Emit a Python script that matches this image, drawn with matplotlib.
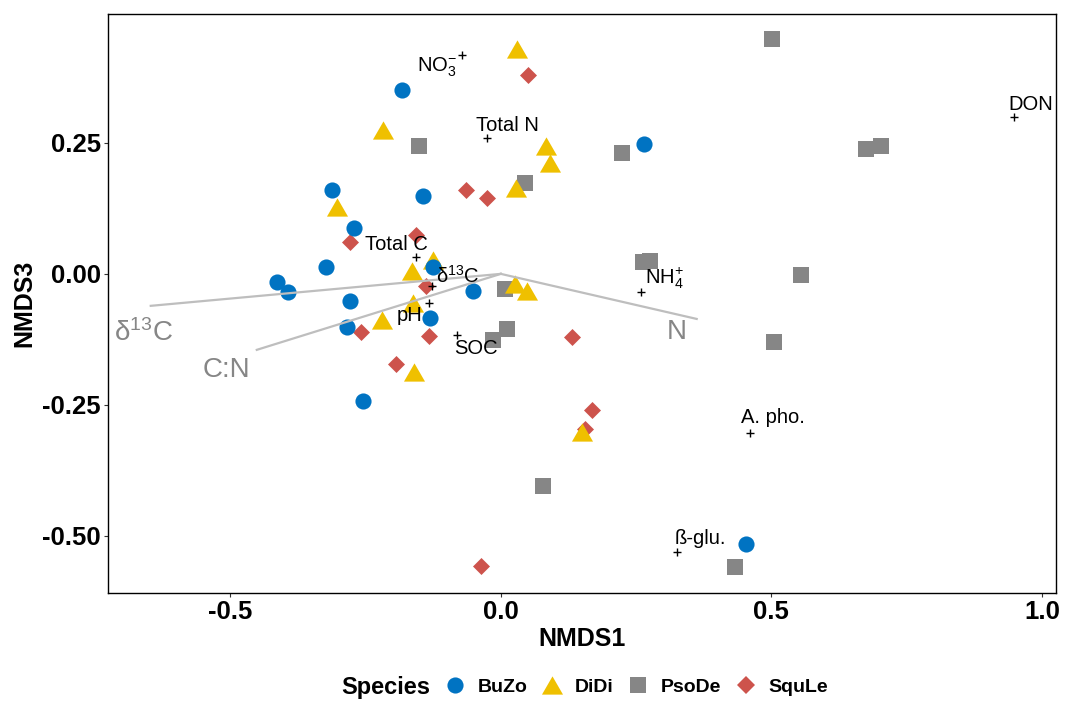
import numpy as np
import matplotlib
matplotlib.use("Agg")
import matplotlib.pyplot as plt
from matplotlib.lines import Line2D

plt.rcParams['font.family'] = ['Liberation Sans', 'DejaVu Sans']
plt.rcParams['mathtext.fontset'] = 'custom'
plt.rcParams['mathtext.rm'] = 'Liberation Sans'
plt.rcParams['mathtext.it'] = 'Liberation Sans:italic'
plt.rcParams['mathtext.bf'] = 'Liberation Sans:bold'

# site scores (NMDS1, NMDS3) per species
buzo_x = [-0.183, 0.264, -0.312, -0.144, -0.272, -0.323, -0.414, -0.394, -0.126,
          -0.279, -0.052, -0.285, -0.131, -0.255, 0.453]
buzo_y = [0.351, 0.248, 0.160, 0.149, 0.088, 0.013, -0.015, -0.034, 0.013,
          -0.052, -0.032, -0.101, -0.084, -0.242, -0.515]

didi_x = [0.030, -0.218, 0.083, 0.091, 0.028, -0.303, -0.165, -0.126, -0.163,
          -0.220, -0.161, 0.026, 0.048, 0.150]
didi_y = [0.429, 0.275, 0.244, 0.212, 0.164, 0.128, 0.006, 0.027, -0.055,
          -0.088, -0.187, -0.019, -0.032, -0.302]

psode_x = [0.501, -0.152, 0.224, 0.044, 0.675, 0.702, 0.262, 0.275, 0.555,
           0.505, 0.007, -0.015, 0.011, 0.078, 0.433]
psode_y = [0.448, 0.244, 0.231, 0.174, 0.239, 0.244, 0.023, 0.025, -0.002,
           -0.130, -0.029, -0.126, -0.105, -0.405, -0.559]

squle_x = [0.050, -0.065, -0.026, -0.279, -0.157, -0.139, -0.259, -0.133, -0.194,
           0.131, 0.168, 0.155, -0.037]
squle_y = [0.380, 0.160, 0.145, 0.061, 0.074, -0.023, -0.111, -0.118, -0.172,
           -0.120, -0.260, -0.296, -0.557]

# fitted vectors (grey)
vec_names = ["δ$^{13}$C", "C:N", "N"]
vec_x = [-0.647, -0.451, 0.362]
vec_y = [-0.061, -0.145, -0.086]
vec_lab_x = [-0.660, -0.508, 0.325]
vec_lab_y = [-0.113, -0.183, -0.111]

# environmental / enzyme points (black +)
env_names = ["NO$_3^{-}$", "Total N", "Total C", "δ$^{13}$C", "pH", "SOC",
             "NH$_4^{+}$", "A. pho.", "ß-glu.", "DON"]
env_x = [-0.072, -0.026, -0.157, -0.128, -0.133, -0.081, 0.259, 0.460, 0.325, 0.948]
env_y = [0.418, 0.260, 0.032, -0.023, -0.055, -0.116, -0.034, -0.303, -0.531, 0.300]
# label offsets in points
env_off = [(-18, -9), (15, 9), (-14, 9), (19, 7), (-14, -9), (14, -10),
           (17, 10), (17, 11), (17, 10), (12, 9)]

species = ["BuZo", "DiDi", "PsoDe", "SquLe"]
colors = {"BuZo": "#0073C2", "DiDi": "#EFC000", "PsoDe": "#868686", "SquLe": "#CD534C"}
tri = [(-1, -0.866), (1, -0.866), (0, 0.866)]
markers = {"BuZo": "o", "DiDi": tri, "PsoDe": "s", "SquLe": "D"}
sizes = {"BuZo": 135, "DiDi": 230, "PsoDe": 135, "SquLe": 75}
data = {"BuZo": (buzo_x, buzo_y), "DiDi": (didi_x, didi_y),
        "PsoDe": (psode_x, psode_y), "SquLe": (squle_x, squle_y)}

fig = plt.figure(figsize=(10.65, 7.02), dpi=100)
ax = fig.add_axes([0.1014, 0.1553, 0.8901, 0.8248])

for i, sp in enumerate(["SquLe", "PsoDe", "DiDi", "BuZo"]):
    x, y = data[sp]
    ax.scatter(x, y, s=sizes[sp], marker=markers[sp], color=colors[sp],
               linewidths=0, zorder=2 + i)

for vx, vy, lx, ly, name in zip(vec_x, vec_y, vec_lab_x, vec_lab_y, vec_names):
    ax.plot([0, vx], [0, vy], color="#BEBEBE", lw=1.6, zorder=7)
    ax.text(lx, ly, name, color="#868686", fontsize=20, ha="center", va="center", zorder=8)

ax.scatter(env_x, env_y, marker="+", color="black", s=30, linewidths=1, zorder=9)
for ex, ey, name, off in zip(env_x, env_y, env_names, env_off):
    ax.annotate(name, (ex, ey), xytext=off, textcoords="offset points",
                ha="center", va="center", fontsize=14.5, zorder=10)

ax.set_xlim(-0.726, 1.026)
ax.set_ylim(-0.609, 0.496)
ax.set_xticks([-0.5, 0.0, 0.5, 1.0])
ax.set_xticklabels(["-0.5", "0.0", "0.5", "1.0"])
ax.set_yticks([-0.5, -0.25, 0.0, 0.25])
ax.set_yticklabels(["-0.50", "-0.25", "0.00", "0.25"])
ax.tick_params(length=3, width=0.8, color="#333333", labelsize=18.5, pad=2)
for lab in ax.get_xticklabels() + ax.get_yticklabels():
    lab.set_fontweight("bold")
for s in ax.spines.values():
    s.set_linewidth(1.0)
ax.set_xlabel("NMDS1", fontsize=18, fontweight="bold", labelpad=2)
ax.set_ylabel("NMDS3", fontsize=18, fontweight="bold", labelpad=4)

handles = [Line2D([], [], ls="none", marker=markers[sp], color=colors[sp],
                  markersize=np.sqrt(sizes[sp]), markeredgewidth=0) for sp in species]
fig.legend(handles, species, loc="center left", bbox_to_anchor=(0.418, 0.021),
           ncol=4, frameon=False, handlelength=1.0, handletextpad=0.69,
           columnspacing=0.74, borderpad=0, borderaxespad=0,
           prop={"weight": "bold", "size": 14})
fig.text(341 / 1065, 0.021, "Species", fontsize=17, fontweight="bold",
         ha="left", va="center")

fig.savefig("out.png", dpi=100)
